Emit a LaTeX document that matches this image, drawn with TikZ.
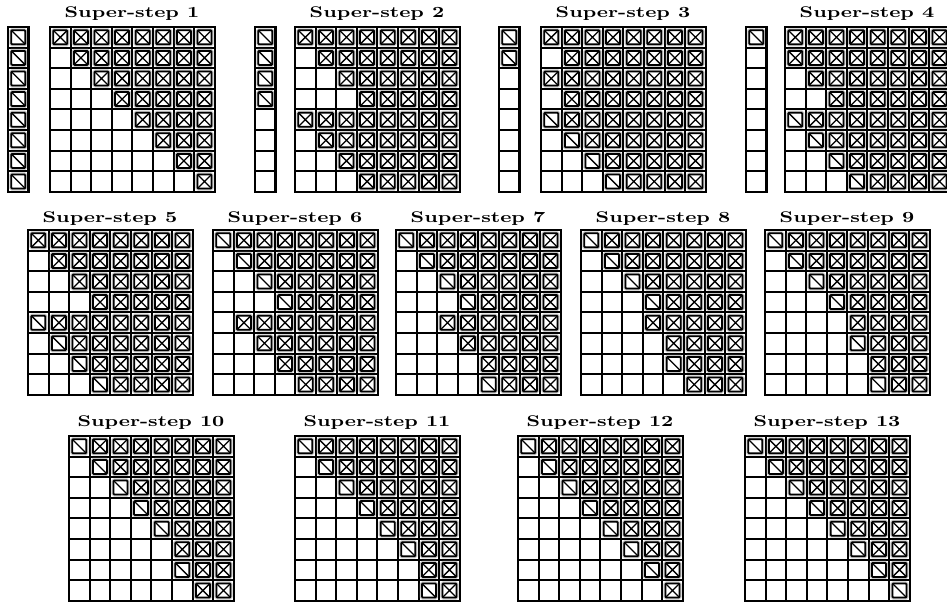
\documentclass[tikz,border=0pt]{standalone}
\usetikzlibrary{positioning}

\newcommand{\cellsz}{20.6}
\tikzset{
  gridline/.style={draw=black,line width=1.05pt},
  gridframe/.style={draw=black,line width=1.4pt},
  markbox/.style={draw=black,line width=1pt,fill=white,rounded corners=0.5pt,
    preaction={draw=gray!45,line width=2.3pt}},
  markline/.style={draw=black,line width=0.75pt},
  sstitle/.style={font=\bfseries\fontsize{8.8}{10}\selectfont,anchor=base,inner sep=0pt},
  xcell/.pic={\draw[markbox] (-7,-7) rectangle (7,7); \draw[markline] (-7,-7) -- (7,7) (-7,7) -- (7,-7);},
  scell/.pic={\draw[markbox] (-7,-7) rectangle (7,7); \draw[markline] (-7,-7) -- (7,7);}
}
% 8x8 matrix: 0 empty, 1 diagonal mark, 2 crossed mark
\newcommand{\ssmat}[3]{%
  \foreach \rowcells [count=\ri from 0] in {#3} {
    \foreach \cval [count=\ci from 0] in \rowcells {
      \draw[gridline] ({#1+\ci*\cellsz},{#2+\ri*\cellsz}) rectangle ++(\cellsz,\cellsz);
      \ifnum\cval=1 \pic at ({#1+(\ci+0.5)*\cellsz},{#2+(\ri+0.5)*\cellsz}) {scell};\fi
      \ifnum\cval=2 \pic at ({#1+(\ci+0.5)*\cellsz},{#2+(\ri+0.5)*\cellsz}) {xcell};\fi
    }
  }
  \draw[gridframe] (#1,#2) rectangle ++({8*\cellsz},{8*\cellsz});
}
% column vector
\newcommand{\ssvec}[3]{%
  \foreach \cval [count=\ri from 0] in {#3} {
    \draw[gridline] (#1,{#2+\ri*\cellsz}) rectangle ++(\cellsz,\cellsz);
    \ifnum\cval=1 \pic at ({#1+0.5*\cellsz},{#2+(\ri+0.5)*\cellsz}) {scell};\fi
  }
  \draw[gridframe] (#1,#2) rectangle ++(\cellsz,{8*\cellsz});
}

\begin{document}
\begin{tikzpicture}[x=0.02cm,y=-0.02cm]
\useasboundingbox (0,0) rectangle (947,603);

% first row
\node[sstitle] (t1) at (132,17) {\scalebox{1.33}[1]{Super-step 1}};
\ssvec{8}{27}{1,1,1,1,1,1,1,1}
\ssmat{50}{27}{{2,2,2,2,2,2,2,2},{0,2,2,2,2,2,2,2},{0,0,2,2,2,2,2,2},{0,0,0,2,2,2,2,2},{0,0,0,0,2,2,2,2},{0,0,0,0,0,2,2,2},{0,0,0,0,0,0,2,2},{0,0,0,0,0,0,0,2}}

\node[sstitle] (t2) at (377,17) {\scalebox{1.33}[1]{Super-step 2}};
\ssvec{255}{27}{1,1,1,1,0,0,0,0}
\ssmat{295}{27}{{2,2,2,2,2,2,2,2},{0,2,2,2,2,2,2,2},{0,0,2,2,2,2,2,2},{0,0,0,2,2,2,2,2},{2,2,2,2,2,2,2,2},{0,2,2,2,2,2,2,2},{0,0,2,2,2,2,2,2},{0,0,0,2,2,2,2,2}}

\node[sstitle] (t3) at (623,17) {\scalebox{1.33}[1]{Super-step 3}};
\ssvec{499}{27}{1,1,0,0,0,0,0,0}
\ssmat{541}{27}{{2,2,2,2,2,2,2,2},{0,2,2,2,2,2,2,2},{2,2,2,2,2,2,2,2},{0,2,2,2,2,2,2,2},{1,2,2,2,2,2,2,2},{0,1,2,2,2,2,2,2},{0,0,1,2,2,2,2,2},{0,0,0,1,2,2,2,2}}

\node[sstitle] (t4) at (867,17) {\scalebox{1.33}[1]{Super-step 4}};
\ssvec{746}{27}{1,0,0,0,0,0,0,0}
\ssmat{785}{27}{{2,2,2,2,2,2,2,2},{2,2,2,2,2,2,2,2},{0,2,2,2,2,2,2,2},{0,0,2,2,2,2,2,2},{1,2,2,2,2,2,2,2},{0,1,2,2,2,2,2,2},{0,0,1,2,2,2,2,2},{0,0,0,1,2,2,2,2}}

% second row
\node[sstitle] (t5) at (110,222) {\scalebox{1.33}[1]{Super-step 5}};
\ssmat{28}{230}{{2,2,2,2,2,2,2,2},{0,2,2,2,2,2,2,2},{0,0,2,2,2,2,2,2},{0,0,0,2,2,2,2,2},{1,2,2,2,2,2,2,2},{0,1,2,2,2,2,2,2},{0,0,1,2,2,2,2,2},{0,0,0,1,2,2,2,2}}

\node[sstitle] (t6) at (295,222) {\scalebox{1.33}[1]{Super-step 6}};
\ssmat{213}{230}{{1,2,2,2,2,2,2,2},{0,1,2,2,2,2,2,2},{0,0,1,2,2,2,2,2},{0,0,0,1,2,2,2,2},{0,2,2,2,2,2,2,2},{0,0,2,2,2,2,2,2},{0,0,0,2,2,2,2,2},{0,0,0,0,2,2,2,2}}

\node[sstitle] (t7) at (478,222) {\scalebox{1.33}[1]{Super-step 7}};
\ssmat{396}{230}{{1,2,2,2,2,2,2,2},{0,1,2,2,2,2,2,2},{0,0,1,2,2,2,2,2},{0,0,0,1,2,2,2,2},{0,0,2,2,2,2,2,2},{0,0,0,2,2,2,2,2},{0,0,0,0,2,2,2,2},{0,0,0,0,1,2,2,2}}

\node[sstitle] (t8) at (663,222) {\scalebox{1.33}[1]{Super-step 8}};
\ssmat{581}{230}{{1,2,2,2,2,2,2,2},{0,1,2,2,2,2,2,2},{0,0,1,2,2,2,2,2},{0,0,0,1,2,2,2,2},{0,0,0,2,2,2,2,2},{0,0,0,0,2,2,2,2},{0,0,0,0,1,2,2,2},{0,0,0,0,0,2,2,2}}

\node[sstitle] (t9) at (847,222) {\scalebox{1.33}[1]{Super-step 9}};
\ssmat{765}{230}{{1,2,2,2,2,2,2,2},{0,1,2,2,2,2,2,2},{0,0,1,2,2,2,2,2},{0,0,0,1,2,2,2,2},{0,0,0,0,2,2,2,2},{0,0,0,0,1,2,2,2},{0,0,0,0,0,2,2,2},{0,0,0,0,0,1,2,2}}

% third row
\node[sstitle] (t10) at (151,426) {\scalebox{1.33}[1]{Super-step 10}};
\ssmat{69}{436}{{1,2,2,2,2,2,2,2},{0,1,2,2,2,2,2,2},{0,0,1,2,2,2,2,2},{0,0,0,1,2,2,2,2},{0,0,0,0,1,2,2,2},{0,0,0,0,0,2,2,2},{0,0,0,0,0,1,2,2},{0,0,0,0,0,0,2,2}}

\node[sstitle] (t11) at (377,426) {\scalebox{1.33}[1]{Super-step 11}};
\ssmat{295}{436}{{1,2,2,2,2,2,2,2},{0,1,2,2,2,2,2,2},{0,0,1,2,2,2,2,2},{0,0,0,1,2,2,2,2},{0,0,0,0,1,2,2,2},{0,0,0,0,0,1,2,2},{0,0,0,0,0,0,2,2},{0,0,0,0,0,0,1,2}}

\node[sstitle] (t12) at (600,426) {\scalebox{1.33}[1]{Super-step 12}};
\ssmat{518}{436}{{1,2,2,2,2,2,2,2},{0,1,2,2,2,2,2,2},{0,0,1,2,2,2,2,2},{0,0,0,1,2,2,2,2},{0,0,0,0,1,2,2,2},{0,0,0,0,0,1,2,2},{0,0,0,0,0,0,1,2},{0,0,0,0,0,0,0,2}}

\node[sstitle] (t13) at (827,426) {\scalebox{1.33}[1]{Super-step 13}};
\ssmat{745}{436}{{1,2,2,2,2,2,2,2},{0,1,2,2,2,2,2,2},{0,0,1,2,2,2,2,2},{0,0,0,1,2,2,2,2},{0,0,0,0,1,2,2,2},{0,0,0,0,0,1,2,2},{0,0,0,0,0,0,1,2},{0,0,0,0,0,0,0,1}}

\end{tikzpicture}
\end{document}
